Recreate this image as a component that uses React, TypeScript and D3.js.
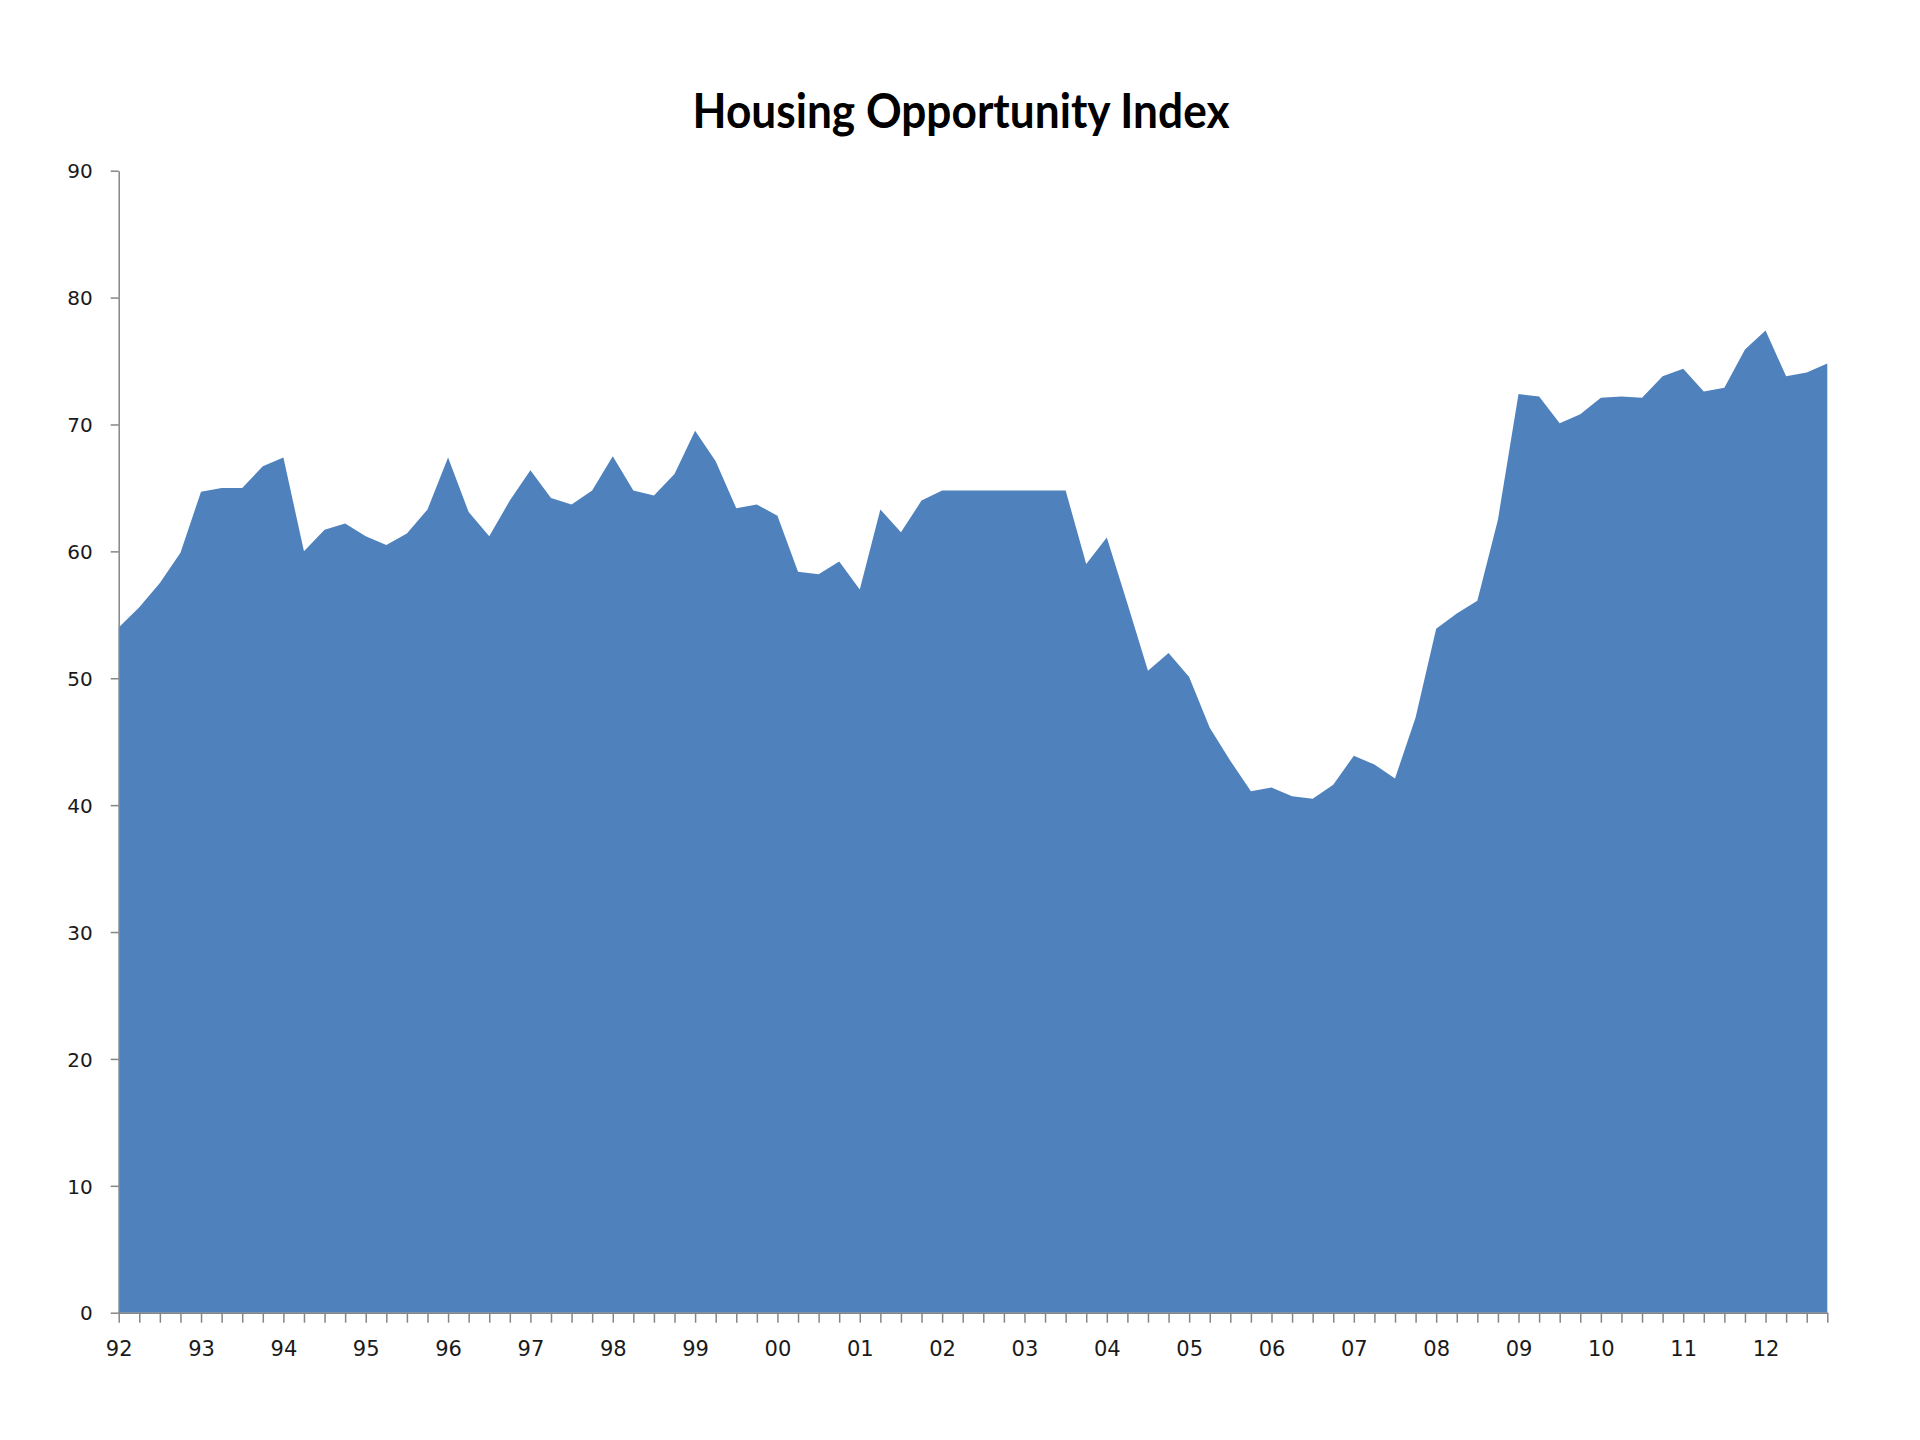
import * as d3 from 'd3';
import React, { Component } from 'react';

// quarterly index values, 1992 Q1 .. 2012 Q4
const years = ['92', '93', '94', '95', '96', '97', '98', '99', '00', '01', '02',
  '03', '04', '05', '06', '07', '08', '09', '10', '11', '12'];
const quarters = ['Q1', 'Q2', 'Q3', 'Q4'];
const hoiValues = [
  54.0, 55.6, 57.5, 59.9, 64.7, 65.0, 65.0, 66.7,
  67.4, 60.0, 61.7, 62.2, 61.2, 60.5, 61.4, 63.3,
  67.4, 63.1, 61.2, 64.0, 66.4, 64.2, 63.7, 64.8,
  67.5, 64.8, 64.4, 66.1, 69.5, 67.1, 63.4, 63.7,
  62.8, 58.4, 58.2, 59.2, 57.0, 63.3, 61.5, 64.0,
  64.8, 64.8, 64.8, 64.8, 64.8, 64.8, 64.8, 59.0,
  61.1, 55.9, 50.6, 52.0, 50.1, 46.1, 43.5, 41.1,
  41.4, 40.7, 40.5, 41.6, 43.9, 43.2, 42.1, 46.9,
  53.9, 55.1, 56.1, 62.5, 72.4, 72.2, 70.1, 70.8,
  72.1, 72.2, 72.1, 73.8, 74.4, 72.6, 72.9, 75.9,
  77.4, 73.8, 74.1, 74.8,
];
const yTicks = [0, 10, 20, 30, 40, 50, 60, 70, 80, 90];
const title = 'Housing Opportunity Index';

class AreaChart extends Component {
  private node: any;

  // tslint:disable-next-line member-access
  componentDidMount() {
    document.body.style.margin = '0';
    this.createAreaChart();
  }

  // tslint:disable-next-line member-access
  createAreaChart() {
    const width = 1920;
    const height = 1440;
    const left = 118.7;
    const right = 1827.3;
    const top = 170.7;
    const bottom = 1312.7;

    // one category per quarter, e.g. "92Q1"
    const categories: string[] = [];
    years.forEach((yr) => quarters.forEach((q) => categories.push(yr + q)));
    const cats = categories.slice(0, hoiValues.length);

    const x = d3.scalePoint().domain(cats).range([left, right]);
    const y = d3.scaleLinear().domain([0, 90]).range([bottom, top]);

    const svg = d3.select(this.node);
    svg.selectAll('*').remove();
    svg.attr('width', width).attr('height', height);

    svg.append('rect').attr('width', width).attr('height', height).attr('fill', '#ffffff');

    const area = d3
      .area<number>()
      .x((d, i) => x(cats[i]) as number)
      .y0(y(0))
      .y1((d) => y(d));

    svg
      .append('path')
      .datum(hoiValues)
      .attr('fill', '#4f81bd')
      .attr('d', area);

    // y axis
    const yAxis = d3
      .axisLeft(y)
      .tickValues(yTicks)
      .tickSizeInner(8)
      .tickSizeOuter(0)
      .tickPadding(18);
    const gy = svg
      .append('g')
      .attr('transform', 'translate(' + left + ',0)')
      .call(yAxis);
    gy.select('.domain').attr('stroke', '#868686').attr('stroke-width', 1.5);
    gy.selectAll('.tick line').attr('stroke', '#868686').attr('stroke-width', 1.5);
    gy.selectAll('.tick text')
      .attr('font-family', 'DejaVu Sans')
      .attr('font-size', 20)
      .attr('fill', '#1a1a1a')
      .attr('dy', '0.36em');

    // x axis, a tick every quarter, label every year
    const xAxis = d3
      .axisBottom(x)
      .tickSizeInner(10)
      .tickSizeOuter(0)
      .tickPadding(14)
      .tickFormat((d) => (d.endsWith('Q1') ? d.slice(0, 2) : ''));
    const gx = svg
      .append('g')
      .attr('transform', 'translate(0,' + bottom + ')')
      .call(xAxis);
    gx.select('.domain').attr('stroke', '#868686').attr('stroke-width', 1.5);
    gx.selectAll('.tick line').attr('stroke', '#868686').attr('stroke-width', 1.5);
    gx.selectAll('.tick text')
      .attr('font-family', 'DejaVu Sans')
      .attr('font-size', 21)
      .attr('fill', '#1a1a1a')
      .attr('y', 36)
      .attr('dy', '0.36em');

    svg
      .append('text')
      .attr('x', 961)
      .attr('y', 128)
      .attr('text-anchor', 'middle')
      .attr('font-family', 'Lato, "Open Sans", sans-serif')
      .attr('font-weight', 700)
      .attr('font-size', 48)
      .attr('textLength', 537)
      .attr('lengthAdjust', 'spacingAndGlyphs')
      .attr('fill', '#000000')
      .text(title);
  }

  // tslint:disable-next-line member-access
  render() {
    return <svg style={{ display: 'block' }} ref={(node) => (this.node = node)} />;
  }
}

export default function App() {
  return <AreaChart />;
}
